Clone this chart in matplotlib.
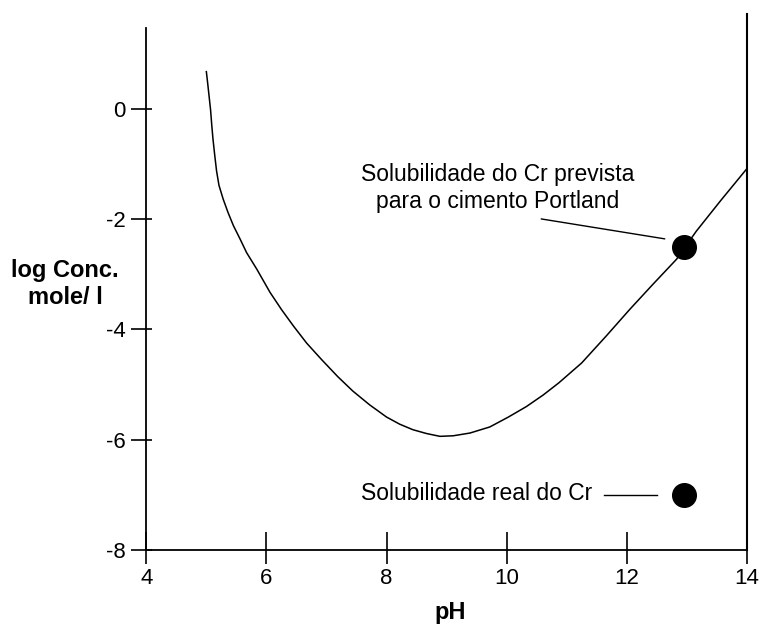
import matplotlib.pyplot as plt
from matplotlib.ticker import MultipleLocator

# Curva de solubilidade do Cr em funcao do pH
ph = [5.00, 5.02, 5.04, 5.07, 5.09, 5.11, 5.14, 5.17, 5.21, 5.28, 5.36,
      5.45, 5.56, 5.67, 5.84, 6.06, 6.25, 6.45, 6.67, 6.92, 7.19, 7.44,
      7.72, 8.00, 8.22, 8.44, 8.67, 8.89, 9.11, 9.39, 9.72, 10.03, 10.33,
      10.61, 10.87, 11.25, 11.66, 12.05, 12.44, 12.83, 13.16, 13.57, 14.00]
log_conc = [0.67, 0.48, 0.28, -0.02, -0.30, -0.55, -0.85, -1.13, -1.39,
            -1.64, -1.88, -2.12, -2.36, -2.61, -2.91, -3.33, -3.64, -3.94,
            -4.25, -4.55, -4.86, -5.12, -5.37, -5.59, -5.72, -5.82, -5.89,
            -5.94, -5.93, -5.88, -5.77, -5.59, -5.40, -5.19, -4.97, -4.61,
            -4.12, -3.64, -3.18, -2.73, -2.22, -1.66, -1.09]

# Pontos destacados
ph_pontos = [12.95, 12.95]
conc_pontos = [-2.5, -7.0]

x_ticks = [4, 6, 8, 10, 12, 14]
y_ticks = [0, -2, -4, -6, -8]

plt.rcParams['font.family'] = ['Liberation Sans', 'DejaVu Sans']

fig = plt.figure(figsize=(7.64, 6.24), dpi=100)
ax = fig.add_axes([0.1915, 0.1186, 0.786, 0.8594])

ax.plot(ph, log_conc, color='black', linewidth=1.1)
ax.plot(ph_pontos, conc_pontos, 'o', color='black', markersize=17)

# Anotacoes
ax.text(9.85, -1.44, 'Solubilidade do Cr prevista\npara o cimento Portland',
        ha='center', va='center', multialignment='center', fontsize=16.5,
        linespacing=1.2)
ax.plot([10.58, 12.63], [-2.0, -2.36], color='black', linewidth=1.0)
ax.text(11.43, -6.98, 'Solubilidade real do Cr', ha='right', va='center',
        fontsize=16.5)
ax.plot([11.63, 12.50], [-7.0, -7.0], color='black', linewidth=1.0)

ax.set_xlim(4, 14)
ax.set_ylim(-8, 1.72)
ax.set_xticks(x_ticks)
ax.set_yticks(y_ticks)
ax.set_xticklabels([str(t) for t in x_ticks])
ax.set_yticklabels([str(t) for t in y_ticks])

# Marcas que cruzam os eixos
ax.xaxis.remove_overlapping_locs = False
ax.yaxis.remove_overlapping_locs = False
ax.xaxis.set_minor_locator(MultipleLocator(2))
ax.yaxis.set_minor_locator(MultipleLocator(2))
ax.tick_params(axis='x', which='major', direction='out', length=10,
               width=1.2, labelsize=16, pad=3)
ax.tick_params(axis='x', which='minor', direction='in', length=13, width=1.2)
ax.tick_params(axis='y', which='major', direction='out', length=11,
               width=1.2, labelsize=16, pad=4)
ax.tick_params(axis='y', which='minor', direction='in', length=4, width=1.2)

ax.spines['top'].set_visible(False)
ax.spines['left'].set_bounds(-8, 1.47)
ax.spines['right'].set_linewidth(1.5)
ax.spines['left'].set_linewidth(1.3)
ax.spines['bottom'].set_linewidth(1.3)

fig.text(65 / 764, 1 - 284 / 624, 'log Conc.\nmole/ l', ha='center',
         va='center', multialignment='center', fontsize=17,
         fontweight='bold', linespacing=1.2)
fig.text(450 / 764, 1 - 612 / 624, 'pH', ha='center', va='center',
         fontsize=17, fontweight='bold')

fig.savefig('out.png', dpi=100)
